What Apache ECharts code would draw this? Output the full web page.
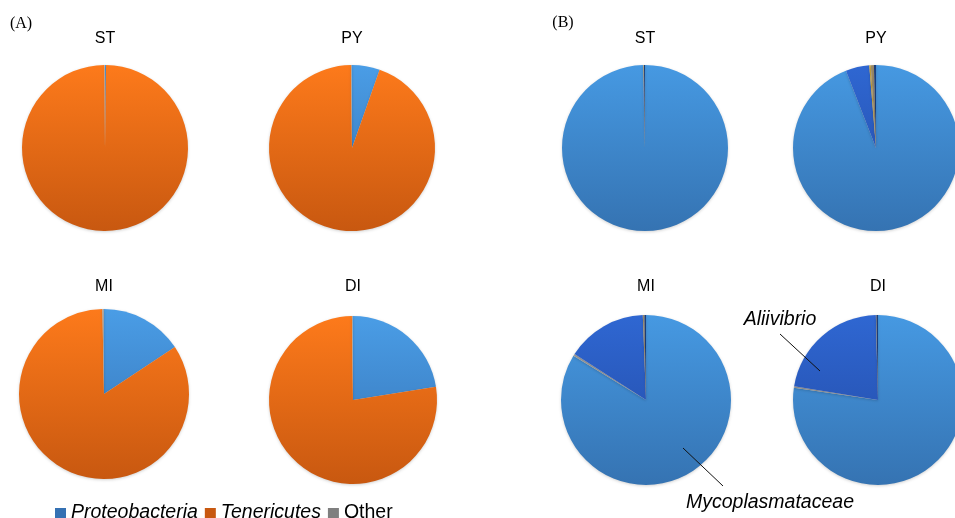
<!DOCTYPE html>
<html>
<head>
<meta charset="utf-8">
<script src="https://cdn.jsdelivr.net/npm/echarts@6/dist/echarts.min.js"></script>
<style>
  html, body { margin: 0; padding: 0; background: #fff; }
  #main { width: 955px; height: 518px; }
</style>
</head>
<body>
<div id="main"></div>
<script>
// panel A: phylum level (%)
var phylaNames = ['Proteobacteria', 'Tenericutes', 'Other'];
var phylaST = [0.2, 99.7, 0.1];
var phylaPY = [5.4, 94.4, 0.2];
var phylaMI = [15.7, 84.0, 0.3];
var phylaDI = [22.5, 77.3, 0.2];

// panel B: family / genus level (%)
var taxaNames = ['Mycoplasmataceae', 'Minor taxon 1', 'Aliivibrio', 'Minor taxon 2', 'Minor taxon 3', 'Minor taxon 4'];
var taxaST = [99.6, 0.0, 0.1, 0.1, 0.0, 0.2];
var taxaPY = [94.1, 0.0, 4.6, 0.3, 0.6, 0.4];
var taxaMI = [83.7, 0.4, 15.3, 0.0, 0.3, 0.3];
var taxaDI = [77.3, 0.3, 22.0, 0.0, 0.1, 0.3];

var sites = ['ST', 'PY', 'MI', 'DI'];

// colours: [top, bottom] of the vertical shading
var phylaColors = [['#4a9de6', '#3571b3'], ['#fd7a1b', '#c85810'], ['#a5a5a5', '#7f7f7f']];
var taxaColors = [['#4699e2', '#3573b2'], ['#a8a8a8', '#888888'], ['#2f67d2', '#2249a3'],
                  ['#c9a43a', '#a8862a'], ['#9a8a6a', '#7a6a4a'], ['#1d3d78', '#152c58']];

// pie layout (px)
var posA = [[105, 148, 83], [352, 148, 83], [104, 394, 85], [353, 400, 84]];
var posB = [[645, 148, 83], [876, 148, 83], [646, 400, 85], [878, 400, 85]];

var chart = echarts.init(document.getElementById('main'));

function grad(c, cy, r) {
    return new echarts.graphic.LinearGradient(0, cy - r, 0, cy + r, [
        {offset: 0, color: c[0]}, {offset: 1, color: c[1]}
    ], true);
}

function makePie(names, values, colors, p) {
    return {
        type: 'pie',
        center: [p[0], p[1]],
        radius: [0, p[2]],
        startAngle: 90,
        clockwise: true,
        avoidLabelOverlap: false,
        label: {show: false},
        labelLine: {show: false},
        emphasis: {disabled: true},
        animation: false,
        itemStyle: {borderWidth: 0, shadowBlur: 3, shadowOffsetY: 1, shadowColor: 'rgba(0,0,0,0.18)'},
        data: values.map(function (v, i) {
            return {name: names[i], value: v, itemStyle: {color: grad(colors[i], p[1], p[2])}};
        })
    };
}

var series = [];
[phylaST, phylaPY, phylaMI, phylaDI].forEach(function (vals, i) {
    series.push(makePie(phylaNames, vals, phylaColors, posA[i]));
});
[taxaST, taxaPY, taxaMI, taxaDI].forEach(function (vals, i) {
    series.push(makePie(taxaNames, vals, taxaColors, posB[i]));
});

var sans = '"Liberation Sans", Arial, sans-serif';
var titleY = [39, 39, 287, 287];
var graphics = [];
sites.forEach(function (s, i) {
    [posA, posB].forEach(function (pos) {
        graphics.push({
            type: 'text', x: pos[i][0], y: titleY[i], z: 100,
            style: {text: s, fill: '#000', font: '16px ' + sans,
                    textAlign: 'center', textVerticalAlign: 'middle'}
        });
    });
});
graphics.push(
    {type: 'text', x: 21, y: 24, z: 100, style: {text: '(A)', fill: '#000', font: '16px "Liberation Serif", serif', textAlign: 'center', textVerticalAlign: 'middle'}},
    {type: 'text', x: 563, y: 23, z: 100, style: {text: '(B)', fill: '#000', font: '16px "Liberation Serif", serif', textAlign: 'center', textVerticalAlign: 'middle'}},
    {type: 'text', x: 780, y: 320, z: 100, style: {text: 'Aliivibrio', fill: '#000', font: 'italic 19.5px ' + sans, textAlign: 'center', textVerticalAlign: 'middle'}},
    {type: 'line', z: 100, shape: {x1: 780, y1: 334, x2: 820, y2: 371}, style: {stroke: '#111', lineWidth: 1}},
    {type: 'text', x: 770, y: 503, z: 100, style: {text: 'Mycoplasmataceae', fill: '#000', font: 'italic 19.5px ' + sans, textAlign: 'center', textVerticalAlign: 'middle'}},
    {type: 'line', z: 100, shape: {x1: 683, y1: 448, x2: 723, y2: 486}, style: {stroke: '#111', lineWidth: 1}}
);

chart.setOption({
    backgroundColor: '#fff',
    animation: false,
    legend: {
        left: 50,
        top: 498,
        orient: 'horizontal',
        icon: 'rect',
        itemWidth: 11,
        itemHeight: 10,
        itemGap: 7,
        selectedMode: false,
        data: phylaNames.map(function (n, i) {
            return {name: n, itemStyle: {color: phylaColors[i][1]}};
        }),
        formatter: function (n) {
            return n === 'Other' ? n : '{i|' + n + '}';
        },
        textStyle: {
            color: '#000', fontSize: 19.5, fontFamily: sans,
            rich: {i: {fontStyle: 'italic', fontSize: 19.5, fontFamily: sans, color: '#000'}}
        }
    },
    graphic: graphics,
    series: series
});
</script>
</body>
</html>
